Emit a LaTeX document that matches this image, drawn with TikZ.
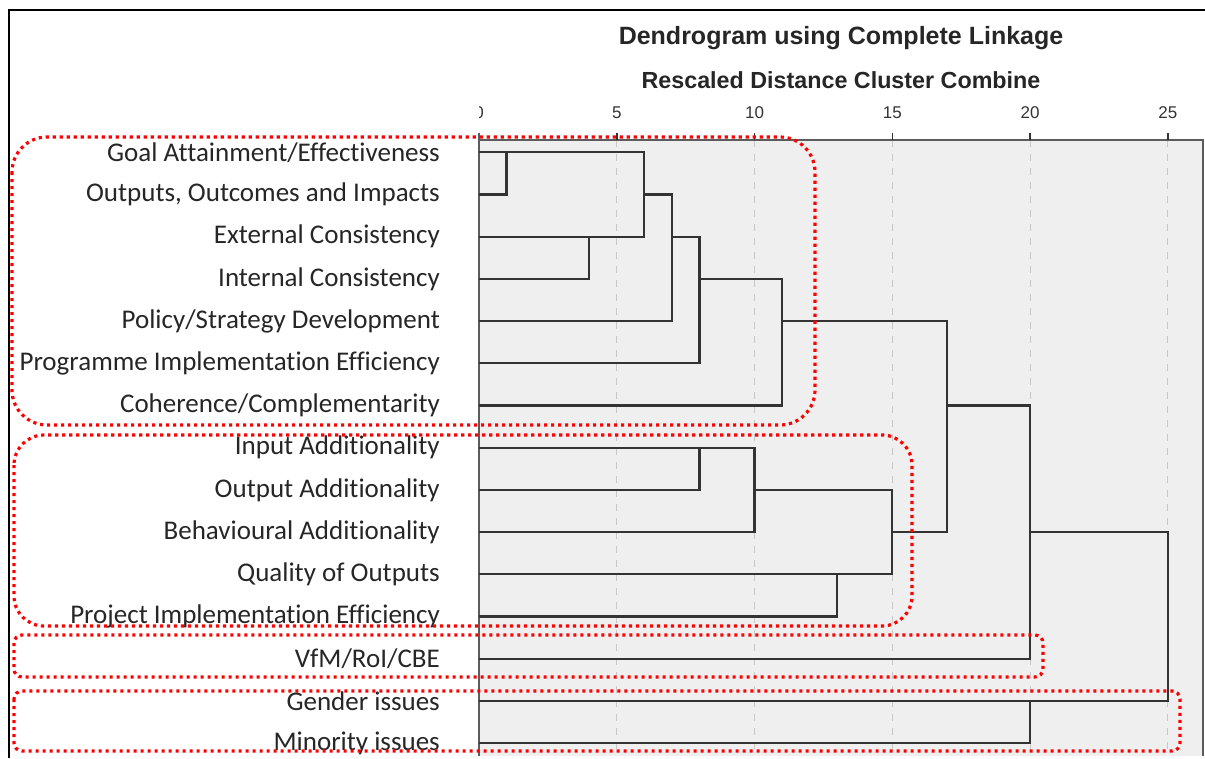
\documentclass[tikz,border=0pt]{standalone}
\usepackage{fontspec}
\setmainfont{Carlito}[Ligatures=NoCommon]
\newfontfamily\arialfont{Liberation Sans}
\usetikzlibrary{calc}

\definecolor{plotgrey}{HTML}{EFEFEF}
\definecolor{linegrey}{HTML}{333333}
\definecolor{gridgrey}{HTML}{C8C8C8}
\definecolor{boxred}{HTML}{FF0000}

\tikzset{
  leafline/.style={linegrey, line width=2.2pt},
  gridline/.style={gridgrey, line width=1pt, dash pattern=on 7pt off 7pt},
  groupbox/.style={boxred, line width=3.2pt, dash pattern=on 3.2pt off 3.8pt},
  leaflabel/.style={anchor=east, inner sep=0pt, text=black!85, font=\fontsize{27}{30}\selectfont},
  ticklabel/.style={text=linegrey, font=\arialfont\fontsize{17}{19}\selectfont},
  titletext/.style={text=black!85, font=\arialfont\bfseries\fontsize{25}{28}\selectfont},
}

\begin{document}
\begin{tikzpicture}[x=1pt,y=-1pt]
\useasboundingbox (0,0) rectangle (1205,758);
% outer frame
\draw[line width=2.5pt] (9,758) -- (9,10) -- (1205,10);
% titles
\node[titletext] (title) at (841,38) {Dendrogram using Complete Linkage};
\node[titletext, font=\arialfont\bfseries\fontsize{23.3}{26}\selectfont] (subtitle) at (841,80) {Rescaled Distance Cluster Combine};
% plot area
\fill[plotgrey] (479,140) rectangle (1203,756);
\foreach \d in {5,10,...,25}
  \draw[gridline] (479+27.55*\d,140) -- (479+27.55*\d,756);
\draw[linegrey!80, line width=1.5pt] (479,756) -- (479,133) (479,140) -- (1203,140) -- (1203,756);
\foreach \d in {5,10,...,25}
  \draw[linegrey, line width=1.5pt] (479+27.55*\d,133) -- (479+27.55*\d,140);
% tick labels (the 0 is cut by the axis)
\begin{scope}
  \clip (479,95) rectangle (1205,130);
  \foreach \d in {0,5,...,25}
    \node[ticklabel] (tick\d) at (479+27.55*\d,113) {\d};
\end{scope}
% leaf labels
\foreach \txt [count=\i from 0] in {Goal Attainment/Effectiveness, {Outputs, Outcomes and Impacts},
    External Consistency, Internal Consistency, Policy/Strategy Development,
    Programme Implementation Efficiency, Coherence/Complementarity, Input Additionality,
    Output Additionality, Behavioural Additionality, Quality of Outputs,
    Project Implementation Efficiency, VfM/RoI/CBE, Gender issues, Minority issues}
  \node[leaflabel] (leaf\i) at (440,152.3+42.2*\i) {\txt};
% dendrogram, x in rescaled distance, y in rows
\begin{scope}[shift={(479,152.3)}, x=27.55pt, y=-42.2pt]
  \draw[leafline] (0,0) -- (6,0) -- (6,2) -- (0,2);
  \draw[leafline] (0,1) -- (1,1) -- (1,0);
  \draw[leafline] (0,3) -- (4,3) -- (4,2);
  \draw[leafline] (6,1) -- (7,1) -- (7,4) -- (0,4);
  \draw[leafline] (7,2) -- (8,2) -- (8,5) -- (0,5);
  \draw[leafline] (8,3) -- (11,3) -- (11,6) -- (0,6);
  \draw[leafline] (11,4) -- (17,4) -- (17,9) -- (15,9);
  \draw[leafline] (0,7) -- (10,7) -- (10,9) -- (0,9);
  \draw[leafline] (0,8) -- (8,8) -- (8,7);
  \draw[leafline] (10,8) -- (15,8) -- (15,10) -- (0,10);
  \draw[leafline] (0,11) -- (13,11) -- (13,10);
  \draw[leafline] (17,6) -- (20,6) -- (20,12) -- (0,12);
  \draw[leafline] (20,9) -- (25,9) -- (25,13) -- (0,13);
  \draw[leafline] (0,14) -- (20,14) -- (20,13);
\end{scope}
% groups
\draw[groupbox, rounded corners=35pt] (12,137) rectangle (815,425);
\draw[groupbox, rounded corners=30pt] (14,435) rectangle (912,626);
\draw[groupbox, rounded corners=8pt] (14,635) rectangle (1043,677);
\draw[groupbox, rounded corners=8pt] (14,691) rectangle (1180,751);
\end{tikzpicture}
\end{document}
